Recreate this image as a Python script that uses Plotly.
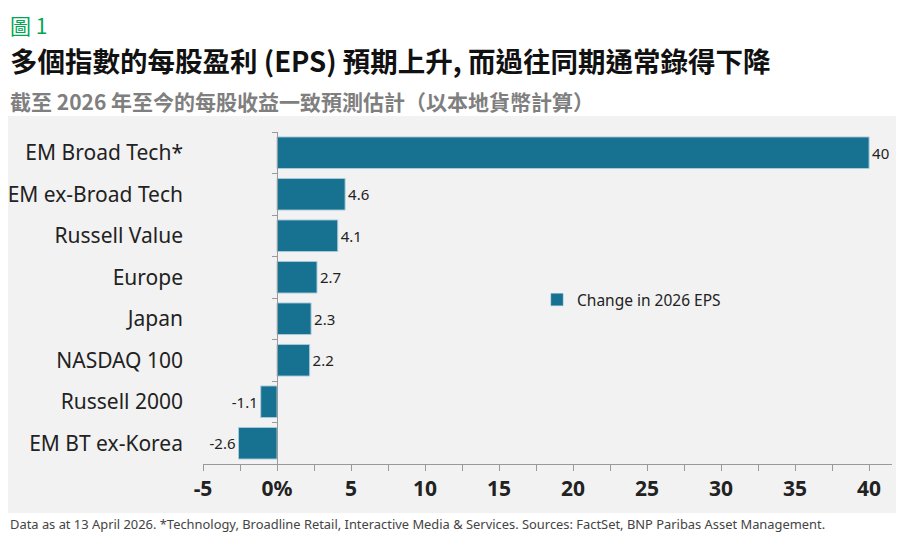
import plotly.graph_objects as go

# values
categories = ["EM Broad Tech*", "EM ex-Broad Tech", "Russell Value", "Europe",
              "Japan", "NASDAQ 100", "Russell 2000", "EM BT ex-Korea"]
eps_change = [40, 4.6, 4.1, 2.7, 2.3, 2.2, -1.1, -2.6]
bar_labels = ["40", "4.6", "4.1", "2.7", "2.3", "2.2", "-1.1", "-2.6"]
x_tickvals = [-5, 0, 5, 10, 15, 20, 25, 30, 35, 40]
x_ticktext = ["-5", "0%", "5", "10", "15", "20", "25", "30", "35", "40"]

BAR = "#177291"
PANEL = "#f2f2f2"
AXIS = "#9a9a9a"
FONT = "Noto Sans, Noto Sans CJK TC, sans-serif"
CJK = "Noto Sans CJK TC, Noto Sans, sans-serif"

# page body adds an 8px margin, so the figure is 8px smaller than the window
W, H = 896, 527
L, R, T, B = 195, 12, 124, 71
PW, PH = W - L - R, H - T - B


def px(x):  # figure pixel -> paper x
    return (x - L) / PW


def py(y):  # figure pixel -> paper y
    return (H - B - y) / PH


fig = go.Figure()
fig.add_trace(go.Bar(
    x=eps_change, y=categories, orientation="h",
    name="Change in 2026 EPS",
    marker=dict(color=BAR, line=dict(color="#5f9fb6", width=0.6)),
    text=bar_labels, textposition="outside", cliponaxis=False,
    textfont=dict(size=15, color="#222222", family=FONT),
))
# invisible copy on a second axis so the category axis line sits at zero
fig.add_trace(go.Bar(
    x=eps_change, y=categories, orientation="h", yaxis="y2",
    marker=dict(color="rgba(0,0,0,0)"), showlegend=False, hoverinfo="skip",
))

fig.update_layout(
    width=W, height=H,
    margin=dict(l=L, r=R, t=T, b=B, autoexpand=False),
    paper_bgcolor="white", plot_bgcolor=PANEL,
    bargap=0.24,
    font=dict(family=FONT, color="#222222"),
    showlegend=True,
    legend=dict(x=px(529), y=py(292), xanchor="left", yanchor="middle",
                bgcolor="rgba(0,0,0,0)", itemwidth=30,
                font=dict(size=15.5, color="#222222")),
    xaxis=dict(range=[-5, 41.55], tickmode="array", tickvals=x_tickvals,
               ticktext=x_ticktext, showgrid=False, zeroline=False,
               showline=True, linecolor=AXIS, linewidth=1, automargin=False,
               ticks="outside", ticklen=6, tickcolor=AXIS,
               minor=dict(tickmode="linear", tick0=-5, dtick=2.5,
                          ticks="outside", ticklen=6, tickcolor=AXIS),
               tickfont=dict(size=21, color="#222222",
                             family="Noto Sans, sans-serif", weight="bold")),
    yaxis=dict(autorange="reversed", showgrid=False, zeroline=False,
               showline=False, ticks="", ticklabelstandoff=19, automargin=False,
               tickfont=dict(size=21, color="#222222")),
    yaxis2=dict(overlaying="y", matches="y", anchor="free", position=5 / 46.55,
                side="left", showgrid=False, zeroline=False, showline=True,
                linecolor=AXIS, linewidth=1, ticks="outside", automargin=False,
                tickson="boundaries", ticklen=5, tickcolor=AXIS,
                showticklabels=False),
)

# grey panel behind the chart
fig.add_shape(type="rect", xref="paper", yref="paper", layer="below",
              x0=px(0), x1=px(892), y0=py(505), y1=py(108),
              fillcolor=PANEL, line=dict(width=0))

fig.add_annotation(text="圖 1", xref="paper", yref="paper", x=px(0), y=py(0),
                   xanchor="left", yanchor="top", showarrow=False,
                   font=dict(size=21, color="#00a651", family=CJK))
fig.add_annotation(text="<b>多個指數的每股盈利 (EPS) 預期上升, 而過往同期通常錄得下降</b>",
                   xref="paper", yref="paper", x=px(0), y=py(52),
                   xanchor="left", yanchor="middle", showarrow=False,
                   font=dict(size=27.5, color="#111111", family=CJK))
fig.add_annotation(text="<b>截至 2026 年至今的每股收益一致預測估計（以本地貨幣計算）</b>",
                   xref="paper", yref="paper", x=px(0), y=py(93),
                   xanchor="left", yanchor="middle", showarrow=False,
                   font=dict(size=21, color="#7f7f7f", family=CJK))
fig.add_annotation(text="Data as at 13 April 2026. *Technology, Broadline Retail, Interactive Media & Services. "
                        "Sources: FactSet, BNP Paribas Asset Management.",
                   xref="paper", yref="paper", x=px(0), y=py(516),
                   xanchor="left", yanchor="middle", showarrow=False,
                   font=dict(size=12.9, color="#444444", family=FONT))

fig.write_html("out.html")
